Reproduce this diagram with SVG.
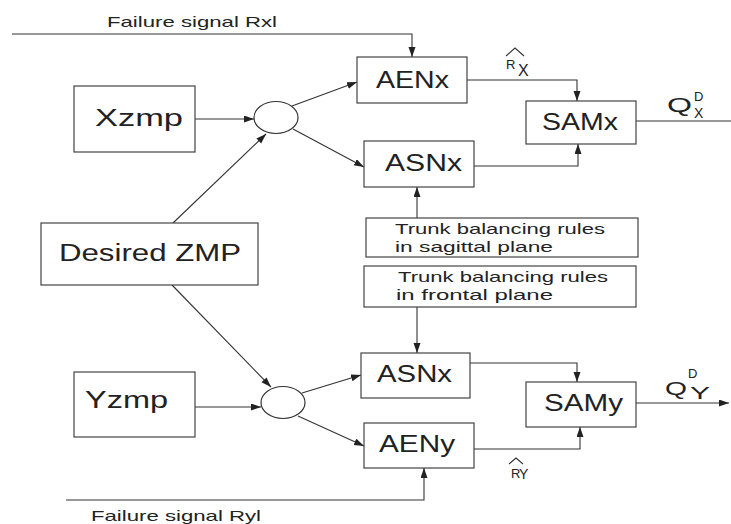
<svg xmlns="http://www.w3.org/2000/svg" width="731" height="524" viewBox="0 0 731 524">
<style>
.box{fill:#fff;stroke:#444;stroke-width:1.2}
.ell{fill:#fff;stroke:#333;stroke-width:1.2}
.ln{fill:none;stroke:#333;stroke-width:1.1}
.big{font-family:"Liberation Sans",Arial,sans-serif;font-size:23px;fill:#222}
.sm{font-family:"Liberation Sans",Arial,sans-serif;font-size:15px;fill:#222}
.lab{font-family:"Liberation Sans",Arial,sans-serif;fill:#222}
</style>
<defs>
<marker id="ah" markerUnits="userSpaceOnUse" markerWidth="11" markerHeight="8" refX="10" refY="3.5" orient="auto">
<path d="M0,0 L10,3.5 L0,7 z" fill="#222"/>
</marker>
</defs>
<rect width="731" height="524" fill="#fff"/>
<g id="connectors">
<path class="ln" d="M12,34 H412 V57" marker-end="url(#ah)"/>
<path class="ln" d="M195,119 H254" marker-end="url(#ah)"/>
<path class="ln" d="M292,106 L357,82" marker-end="url(#ah)"/>
<path class="ln" d="M293,129 L364,167" marker-end="url(#ah)"/>
<path class="ln" d="M173,223 L266,134" marker-end="url(#ah)"/>
<path class="ln" d="M467,80 H577 V101" marker-end="url(#ah)"/>
<path class="ln" d="M474,166 H578 V144" marker-end="url(#ah)"/>
<path class="ln" d="M636,121 H731"/>
<path class="ln" d="M417,218 V187" marker-end="url(#ah)"/>
<path class="ln" d="M417,307 V353" marker-end="url(#ah)"/>
<path class="ln" d="M172,285 L271,387" marker-end="url(#ah)"/>
<path class="ln" d="M195,407 H261" marker-end="url(#ah)"/>
<path class="ln" d="M302,393 L361,375" marker-end="url(#ah)"/>
<path class="ln" d="M298,416 L364,446" marker-end="url(#ah)"/>
<path class="ln" d="M66,500 H424 V468" marker-end="url(#ah)"/>
<path class="ln" d="M470,363 H577 V382" marker-end="url(#ah)"/>
<path class="ln" d="M474,449 H580 V427" marker-end="url(#ah)"/>
<path class="ln" d="M636,403 H729" marker-end="url(#ah)"/>
</g>
<g id="label-rx-failure">
<text class="sm" x="107" y="27" textLength="170" lengthAdjust="spacingAndGlyphs">Failure signal  Rxl</text>
</g>
<g id="label-ry-failure">
<text class="sm" x="91" y="521" textLength="170" lengthAdjust="spacingAndGlyphs">Failure signal  Ryl</text>
</g>
<g id="xzmp">
<rect class="box" x="74" y="86" width="121" height="66"/>
<text class="big" x="95" y="126" textLength="88" lengthAdjust="spacingAndGlyphs">Xzmp</text>
</g>
<g id="sumx"><ellipse class="ell" cx="276" cy="117.5" rx="22" ry="16"/></g>
<g id="aenx">
<rect class="box" x="357" y="57" width="110" height="46"/>
<text class="big" x="376" y="88" textLength="73" lengthAdjust="spacingAndGlyphs">AENx</text>
</g>
<g id="asnx-top">
<rect class="box" x="364" y="141" width="110" height="46"/>
<text class="big" x="385" y="171" textLength="77" lengthAdjust="spacingAndGlyphs">ASNx</text>
</g>
<g id="samx">
<rect class="box" x="526" y="101" width="110" height="43"/>
<text class="big" x="542" y="130" textLength="76" lengthAdjust="spacingAndGlyphs">SAMx</text>
</g>
<g id="label-rhat-x">
<polyline class="ln" points="506,56 515,48 524,56"/>
<text class="lab" x="506" y="69" font-size="13">R</text>
<text class="lab" x="518" y="76" font-size="16">X</text>
</g>
<g id="label-qx">
<text class="lab" x="667" y="112" font-size="20" textLength="25" lengthAdjust="spacingAndGlyphs">Q</text>
<text class="lab" x="694" y="101" font-size="13">D</text>
<text class="lab" x="694" y="118" font-size="14">X</text>
</g>
<g id="trunk-sagittal">
<rect class="box" x="366" y="218" width="272" height="39"/>
<text class="sm" x="395" y="234" textLength="210" lengthAdjust="spacingAndGlyphs">Trunk balancing rules</text>
<text class="sm" x="395" y="252" textLength="158" lengthAdjust="spacingAndGlyphs">in sagittal plane</text>
</g>
<g id="trunk-frontal">
<rect class="box" x="364" y="266" width="272" height="41"/>
<text class="sm" x="398" y="282" textLength="210" lengthAdjust="spacingAndGlyphs">Trunk balancing rules</text>
<text class="sm" x="396" y="300" textLength="157" lengthAdjust="spacingAndGlyphs">in frontal  plane</text>
</g>
<g id="desired-zmp">
<rect class="box" x="41" y="223" width="217" height="62"/>
<text class="big" x="59" y="261" textLength="182" lengthAdjust="spacingAndGlyphs">Desired ZMP</text>
</g>
<g id="yzmp">
<rect class="box" x="74" y="372" width="121" height="65"/>
<text class="big" x="85" y="408" textLength="83" lengthAdjust="spacingAndGlyphs">Yzmp</text>
</g>
<g id="sumy"><ellipse class="ell" cx="283" cy="402.5" rx="22" ry="16"/></g>
<g id="asnx-bottom">
<rect class="box" x="361" y="353" width="109" height="45"/>
<text class="big" x="377" y="382" textLength="75" lengthAdjust="spacingAndGlyphs">ASNx</text>
</g>
<g id="aeny">
<rect class="box" x="364" y="423" width="110" height="45"/>
<text class="big" x="379" y="452" textLength="76" lengthAdjust="spacingAndGlyphs">AENy</text>
</g>
<g id="samy">
<rect class="box" x="526" y="382" width="110" height="45"/>
<text class="big" x="544" y="411" textLength="79" lengthAdjust="spacingAndGlyphs">SAMy</text>
</g>
<g id="label-rhat-y">
<polyline class="ln" points="509,464 516,458 523,464"/>
<text class="lab" x="511" y="478" font-size="13">R</text>
<text class="lab" x="519" y="479" font-size="14">Y</text>
</g>
<g id="label-qy">
<text class="lab" x="665" y="395" font-size="18" textLength="22" lengthAdjust="spacingAndGlyphs">Q</text>
<text class="lab" x="688" y="378" font-size="13">D</text>
<text class="lab" x="690" y="399" font-size="16" textLength="20" lengthAdjust="spacingAndGlyphs">Y</text>
</g>
</svg>
